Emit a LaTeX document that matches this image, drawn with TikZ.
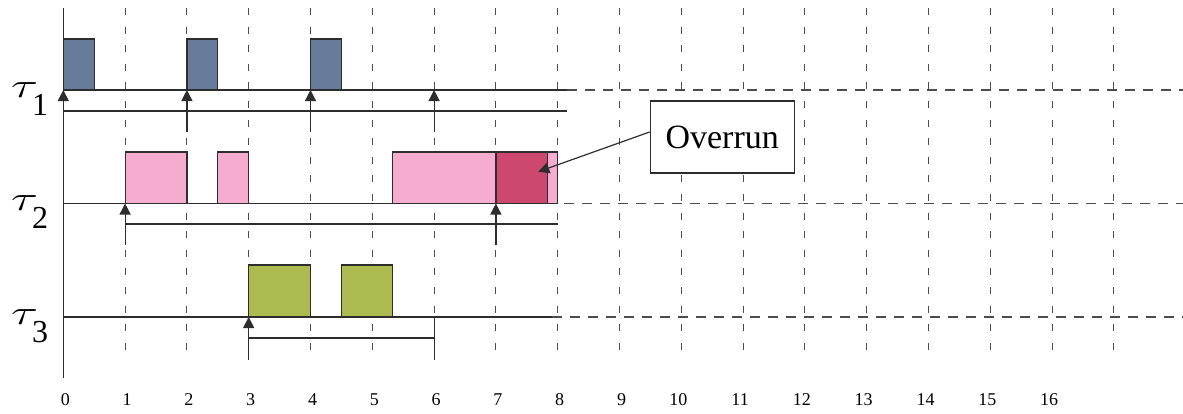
\documentclass[tikz,border=0pt]{standalone}
\usepackage{fontspec}
\setmainfont{Liberation Serif}
\usetikzlibrary{arrows.meta,calc}

\definecolor{taskA}{RGB}{103,124,154}
\definecolor{taskB}{RGB}{245,172,207}
\definecolor{taskBover}{RGB}{204,72,111}
\definecolor{taskC}{RGB}{173,186,80}
\definecolor{edge}{RGB}{45,45,45}

% task label: tau with a lowered index
\newcommand\tasklbl[1]{{\fontsize{18}{18}\selectfont\scalebox{1.45}[1]{$\tau$}}\kern-3pt\raisebox{-9pt}{\fontsize{16}{16}\selectfont #1}}

\begin{document}
\begin{tikzpicture}[
  x=30.9pt, y=-0.5pt,
  vgrid/.style={draw=edge!85, line width=0.55pt, dash pattern=on 3.5pt off 5.8pt},
  hgrid/.style={draw=edge!85, line width=0.55pt, dash pattern=on 5pt off 4pt},
  timeline/.style={draw=edge, line width=0.6pt},
  job/.style={draw=edge, line width=0.6pt},
  release/.style={draw=edge, line width=0.6pt, -{Triangle[length=5.5pt,width=5.5pt]}},
  tick/.style={font=\fontsize{9}{9}\selectfont, inner sep=0pt},
  tasklabel/.style={anchor=base west, inner sep=0pt},
  note/.style={draw=edge, line width=0.6pt, fill=white, minimum width=72pt,
    minimum height=36pt, inner sep=0pt, font=\fontsize{17}{17}\selectfont}
]
\useasboundingbox (-1.02427,0) rectangle (18.1181,413);

% time grid and axis
\foreach \t in {1,...,17} \draw[vgrid] (\t,8) -- (\t,360);
\draw[timeline] (0,8) -- (0,378);

% dashed continuation of the task lines
\draw[hgrid] (8.15,90) -- (18.1181,90);
\draw[hgrid] (8.1,203.5) -- (18.1181,203.5);
\draw[hgrid] (7.9,317) -- (18.1181,317);

% task 1
\draw[timeline] (0,90) -- (8.15,90);
\draw[timeline] (0,111) -- (8.15,111);
\foreach \s in {0,2,4} \filldraw[job, fill=taskA] (\s,39) rectangle (\s+0.5,90);
\foreach \s in {0,2,4,6} \draw[release] (\s,132) -- (\s,90);

% task 2
\draw[timeline] (0,203.5) -- (8,203.5);
\draw[timeline] (1,224) -- (8,224);
\filldraw[job, fill=taskB] (1,152) rectangle (2,203.5);
\filldraw[job, fill=taskB] (2.5,152) rectangle (3,203.5);
\filldraw[job, fill=taskB] (5.33,152) rectangle (8,203.5);
\filldraw[job, fill=taskBover] (7,152) rectangle (7.83,203.5);
\foreach \s in {1,7} \draw[release] (\s,245) -- (\s,203.5);

% task 3
\draw[timeline] (0,317) -- (7.9,317);
\draw[timeline] (3,338) -- (6,338);
\draw[timeline] (6,317) -- (6,360);
\filldraw[job, fill=taskC] (3,265) rectangle (4,317);
\filldraw[job, fill=taskC] (4.5,265) rectangle (5.33,317);
\draw[release] (3,360) -- (3,317);

% task labels
\node[tasklabel] (l1) at (-0.85,97) {\tasklbl{1}};
\node[tasklabel] (l2) at (-0.85,210.5) {\tasklbl{2}};
\node[tasklabel] (l3) at (-0.85,324) {\tasklbl{3}};

% time labels
\foreach \t in {0,...,9} \node[tick] (n\t) at ([xshift=1pt]\t,400) {\t};
\foreach \t in {10,...,16} \node[tick] (n\t) at ([xshift=-1.5pt]\t,400) {\t};

% overrun callout
\node[note] (ovr) at (10.662,137) {Overrun};
\coordinate (ovtip) at (7.686,171.7);
\draw[release] ($(ovr.west)+(0,-5)$) -- (ovtip);
\end{tikzpicture}
\end{document}
